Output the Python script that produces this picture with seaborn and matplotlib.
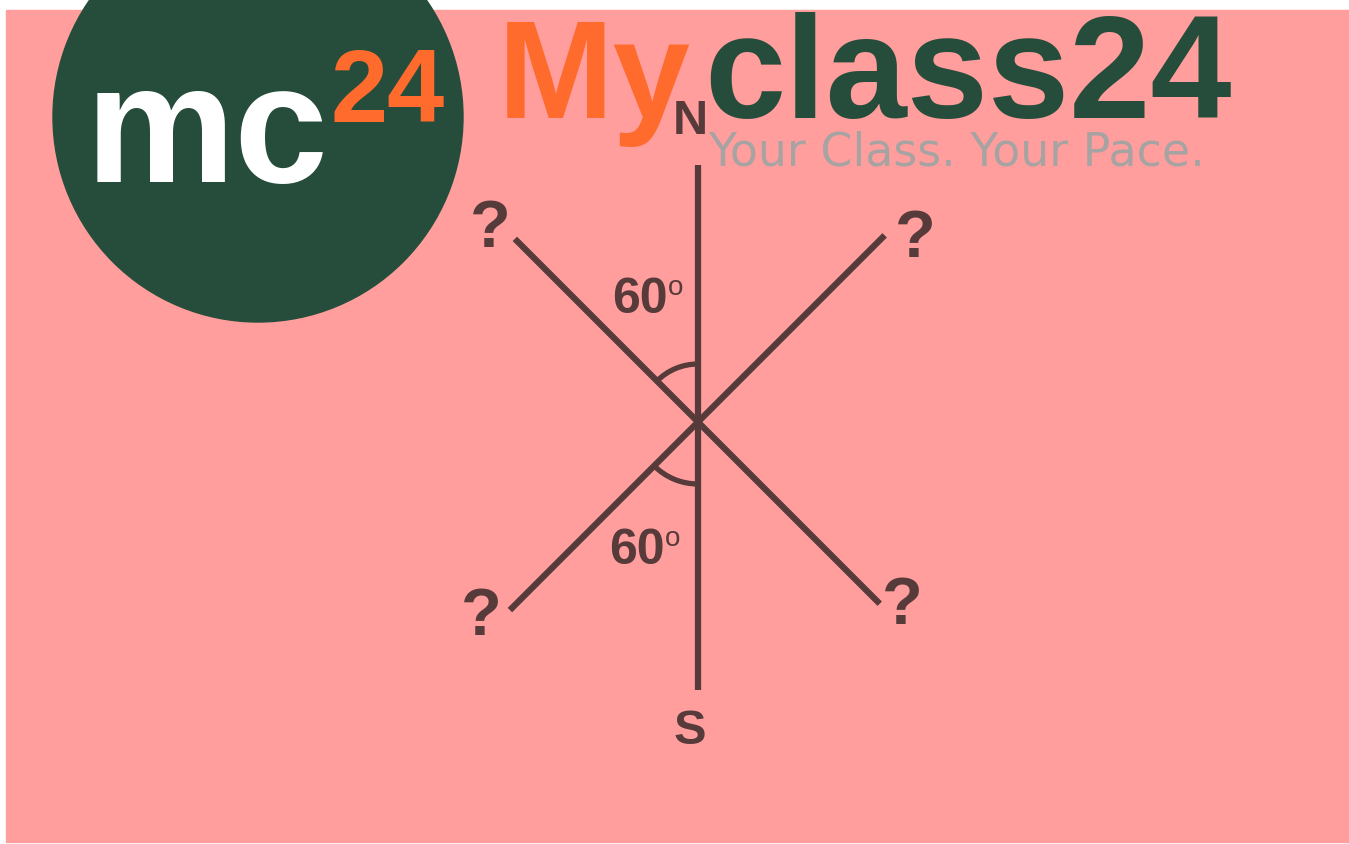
import numpy as np
import pandas as pd
import matplotlib.pyplot as plt
import seaborn as sns
from matplotlib.patches import Circle, Rectangle, Arc

# compass diagram data (pixel space, y grows downward)
center = (698, 422)
ray_names = ["N", "S", "NW", "NE", "SW", "SE"]
ray_angles = [0, 180, -45, 45, 225, 135]          # degrees clockwise from north
ray_lengths = [257, 268, 259, 264, 266, 257]

arc_radius = [58, 62]
arc_theta = [(225, 270), (90, 135)]

angle_labels = ["60", "60"]
angle_label_pos = [(640, 300), (637, 551)]

direction_labels = ["N", "S"]
direction_pos = [(690, 122), (690, 732)]
unknown_pos = [(490, 230), (915, 240), (481, 618), (902, 607)]

BG = "#ff9e9c"
INK = "#573a3a"
GREEN = "#264d3b"
ORANGE = "#ff6b2c"

sns.set_theme(style="white")
plt.rcParams["font.family"] = ["Liberation Sans", "DejaVu Sans"]

fig = plt.figure(figsize=(13.49, 8.44), dpi=100)
fig.patch.set_facecolor("white")
ax = fig.add_axes([0, 0, 1, 1])

ax.add_patch(Rectangle((6, 10), 1343, 832, color=BG, zorder=0))

# logo
ax.add_patch(Circle((258, 117), 205, color=GREEN, zorder=1, clip_on=False))
ax.text(86, 182, "mc", color="white", fontsize=121, fontweight="bold",
        va="baseline", ha="left", zorder=2)
ax.text(331, 122, "24", color=ORANGE, fontsize=74, fontweight="bold",
        va="baseline", ha="left", zorder=2)

ax.text(498, 118, "My", color=ORANGE, fontsize=100, fontweight="bold",
        va="baseline", ha="left", zorder=2)
ax.text(704, 118, "class24", color=GREEN, fontsize=105, fontweight="bold",
        va="baseline", ha="left", zorder=2)
ax.text(708, 165, "Your Class. Your Pace.", color="#a7a3a3", fontsize=33,
        family=["DejaVu Sans"],
        va="baseline", ha="left", zorder=2)

# rays from the centre
rows = []
for name, a, L in zip(ray_names, ray_angles, ray_lengths):
    t = np.deg2rad(a)
    rows.append({"ray": name, "x": center[0], "y": center[1]})
    rows.append({"ray": name, "x": center[0] + L * np.sin(t), "y": center[1] - L * np.cos(t)})
rays = pd.DataFrame(rows)
sns.lineplot(data=rays, x="x", y="y", units="ray", estimator=None, sort=False,
             color=INK, lw=4.5, ax=ax, zorder=3, solid_capstyle="butt")
ax.set_xlim(0, 1349)
ax.set_ylim(844, 0)
ax.axis("off")

for r, (t1, t2) in zip(arc_radius, arc_theta):
    ax.add_patch(Arc(center, 2 * r, 2 * r, theta1=t1, theta2=t2,
                     color=INK, lw=3.8, zorder=3))

for lab, (x, y) in zip(angle_labels, angle_label_pos):
    ax.text(x, y, lab, color=INK, fontsize=36, fontweight="bold",
            ha="center", va="center", zorder=4)
    ax.text(x + 36, y - 12, "o", color=INK, fontsize=20,
            ha="center", va="center", zorder=4)

for lab, (x, y) in zip(direction_labels, direction_pos):
    ax.text(x, y, lab, color=INK, fontsize=35, fontweight="bold",
            ha="center", va="center", zorder=4)

for x, y in unknown_pos:
    ax.text(x, y, "?", color=INK, fontsize=48, fontweight="bold",
            ha="center", va="center", zorder=4)

fig.savefig("out.png", dpi=100, facecolor="white")
